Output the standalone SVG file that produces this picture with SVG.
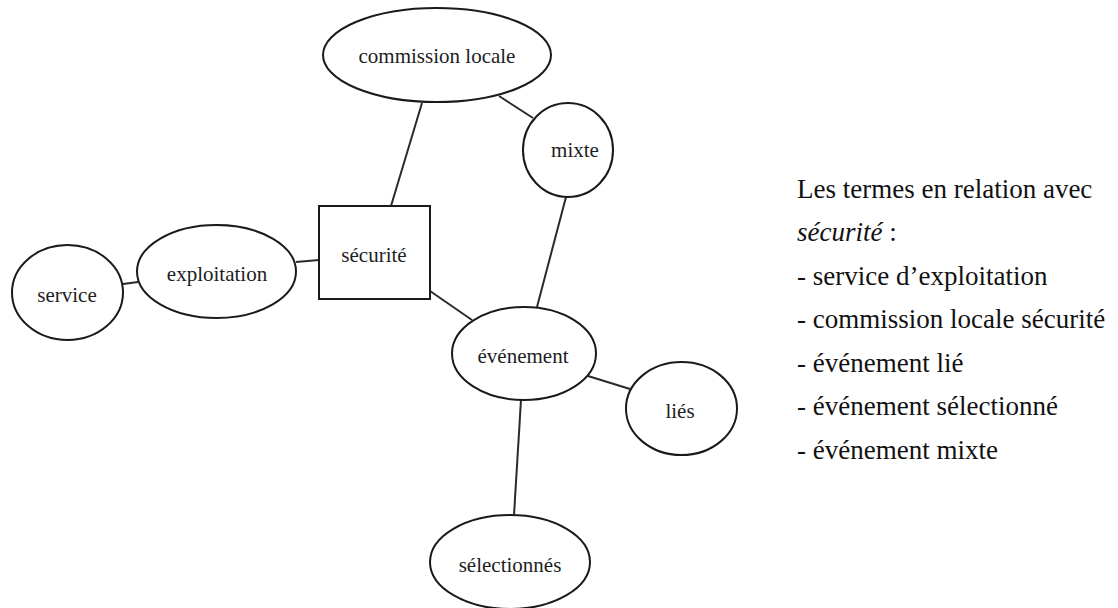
<svg xmlns="http://www.w3.org/2000/svg" width="1118" height="608" viewBox="0 0 1118 608">
  <style>
    .shape { fill: #ffffff; stroke: #1a1a1a; stroke-width: 2; }
    .edge { stroke: #2a2a2a; stroke-width: 2; fill: none; }
    .lbl { font-family: 'Liberation Serif', 'Times New Roman', serif; font-size: 21px; fill: #1e1e1e; text-anchor: middle; }
    .note { font-family: 'Liberation Serif', 'Times New Roman', serif; font-size: 27px; fill: #111111; }
  </style>
  <rect x="0" y="0" width="1118" height="608" fill="#ffffff"/>

  <!-- connectors -->
  <g id="connectors">
    <line class="edge" x1="422" y1="103" x2="391" y2="206"/>
    <line class="edge" x1="499" y1="96" x2="533" y2="118"/>
    <line class="edge" x1="566" y1="197" x2="537" y2="307"/>
    <line class="edge" x1="296" y1="262" x2="319" y2="260"/>
    <line class="edge" x1="123" y1="284" x2="138" y2="282"/>
    <line class="edge" x1="430" y1="291" x2="472" y2="320"/>
    <line class="edge" x1="588" y1="376" x2="630" y2="389"/>
    <line class="edge" x1="521" y1="400" x2="514" y2="515"/>
  </g>

  <!-- nodes -->
  <g id="node-commission">
    <ellipse class="shape" cx="437" cy="55" rx="114" ry="47"/>
    <text class="lbl" x="437" y="63">commission locale</text>
  </g>
  <g id="node-mixte">
    <ellipse class="shape" cx="568" cy="150" rx="45" ry="47"/>
    <text class="lbl" x="575" y="157">mixte</text>
  </g>
  <g id="node-securite">
    <rect class="shape" x="319" y="206" width="111" height="93"/>
    <text class="lbl" x="374" y="262">sécurité</text>
  </g>
  <g id="node-exploitation">
    <ellipse class="shape" cx="216.5" cy="271.5" rx="79.5" ry="46.5"/>
    <text class="lbl" x="217" y="281">exploitation</text>
  </g>
  <g id="node-service">
    <ellipse class="shape" cx="67.5" cy="292.5" rx="55.5" ry="47.5"/>
    <text class="lbl" x="67" y="302">service</text>
  </g>
  <g id="node-evenement">
    <ellipse class="shape" cx="524" cy="353.5" rx="72" ry="46.5"/>
    <text class="lbl" x="523" y="363">événement</text>
  </g>
  <g id="node-lies">
    <ellipse class="shape" cx="681.5" cy="408.5" rx="55.5" ry="46.5"/>
    <text class="lbl" x="680" y="418">liés</text>
  </g>
  <g id="node-selectionnes">
    <ellipse class="shape" cx="510" cy="562" rx="80" ry="47"/>
    <text class="lbl" x="510" y="572">sélectionnés</text>
  </g>

  <!-- side note -->
  <g id="note">
    <text class="note" x="797" y="198">Les termes en relation avec</text>
    <text class="note" x="797" y="241"><tspan font-style="italic">sécurité</tspan> :</text>
    <text class="note" x="797" y="285">- service d’exploitation</text>
    <text class="note" x="797" y="328">- commission locale sécurité</text>
    <text class="note" x="797" y="372">- événement lié</text>
    <text class="note" x="797" y="415">- événement sélectionné</text>
    <text class="note" x="797" y="459">- événement mixte</text>
  </g>
</svg>
